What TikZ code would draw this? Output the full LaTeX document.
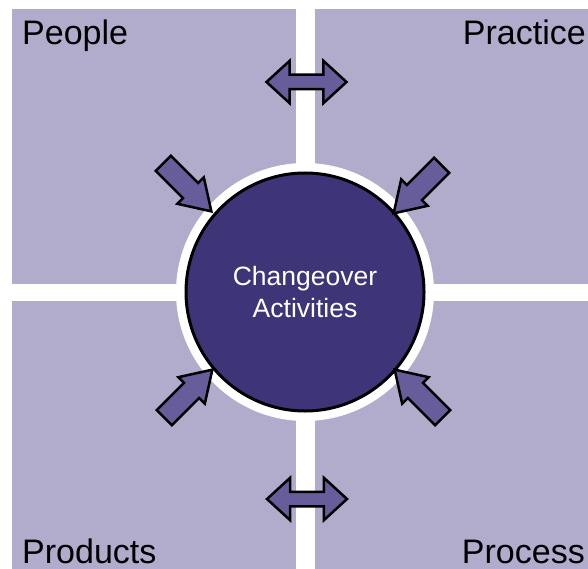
\documentclass[tikz,border=0pt]{standalone}
\usepackage{fontspec}
\setmainfont{Liberation Sans}
\usetikzlibrary{shapes.arrows}

\definecolor{panelcol}{RGB}{178,172,204}
\definecolor{pointercol}{RGB}{104,93,155}
\definecolor{hubcol}{RGB}{62,53,121}

\tikzset{
    corner/.style={font=\fontsize{34}{40}\selectfont, inner sep=0pt},
    pointer/.style={single arrow, draw=black, fill=pointercol, line width=2.5pt,
        minimum height=68pt, inner xsep=0pt, inner ysep=9.5pt,
        single arrow head extend=8pt, single arrow tip angle=65},
    twoway/.style={double arrow, draw=black, fill=pointercol, line width=2.5pt,
        minimum height=80pt, inner xsep=0pt, inner ysep=6pt,
        double arrow head extend=14pt, double arrow tip angle=85}
}

\begin{document}
\begin{tikzpicture}[x=1pt,y=-1pt]
    \fill[white] (0,0) rectangle (588,569);
    \useasboundingbox (0,0) rectangle (588,569);
    %% four panels
    \fill[panelcol] (12,9) rectangle (296,284);
    \fill[panelcol] (315,9) rectangle (588,284);
    \fill[panelcol] (12,301) rectangle (296,569);
    \fill[panelcol] (315,301) rectangle (588,569);
    \node[corner, anchor=base west] (people) at (22,45) {People};
    \node[corner, anchor=base east] (practice) at (586,45) {Practice};
    \node[corner, anchor=base west] (products) at (22,563) {Products};
    \node[corner, anchor=base east] (process) at (585,563) {Process};
    %% hub with white ring
    \fill[white] (305,292) circle (129);
    \node[circle, draw=black, line width=3pt, fill=hubcol, minimum size=238pt,
        text=white, align=center, font=\fontsize{26.5}{32}\selectfont]
        (hub) at (305,292) {Changeover\\Activities};
    %% arrows into the hub
    \node[pointer, rotate=-45, anchor=tip] (in-people) at (213,213) {};
    \node[pointer, rotate=-135, anchor=tip] (in-practice) at (392,215) {};
    \node[pointer, rotate=45, anchor=tip] (in-products) at (214,368) {};
    \node[pointer, rotate=135, anchor=tip] (in-process) at (393,368) {};
    %% two-way links
    \node[twoway] (link-top) at (306.5,82) {};
    \node[twoway] (link-bottom) at (307,499) {};
\end{tikzpicture}
\end{document}
